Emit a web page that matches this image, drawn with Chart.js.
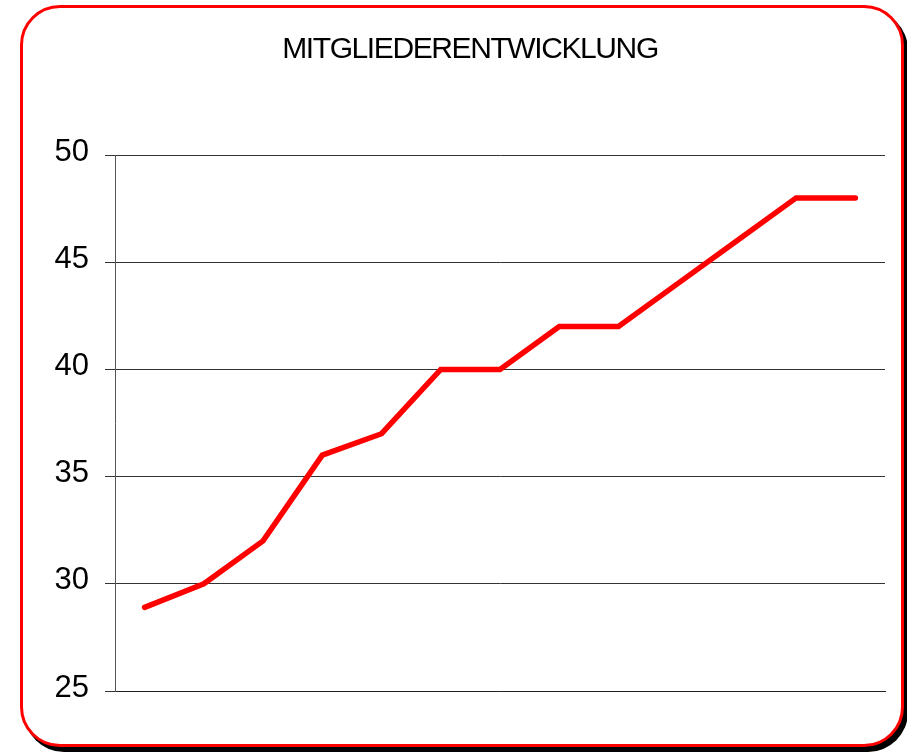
<!DOCTYPE html>
<html>
<head>
<meta charset="utf-8">
<script src="https://cdn.jsdelivr.net/npm/chart.js@4"></script>
<style>
  html, body { margin: 0; padding: 0; background: #fff; }
  body { width: 907px; height: 754px; position: relative; overflow: hidden; }
  .box {
    position: absolute; left: 20px; top: 5px; width: 878px; height: 736px;
    border: 3px solid #ff0000; border-radius: 40px; background: #fff;
    box-shadow: 4px 5px 0 #000;
  }
  .wrap { position: absolute; left: 36px; top: 8px; width: 868px; height: 730px; }
</style>
</head>
<body>
<div class="box"></div>
<div class="wrap"><canvas id="chart"></canvas></div>
<script>
// ---------- data ----------
const titleText = 'MITGLIEDERENTWICKLUNG';
const labels = ['1', '2', '3', '4', '5', '6', '7', '8', '9', '10', '11', '12', '13'];
const members = [28.9, 30, 32, 36, 37, 40, 40, 42, 42, 44, 46, 48, 48];
const yMin = 25, yMax = 50, yStep = 5;

Chart.defaults.font.family = '"Liberation Sans", Arial, sans-serif';
Chart.defaults.color = '#000';

// title drawn by hand so the tight letter spacing of the original can be kept
const tightTitle = {
  id: 'tightTitle',
  afterDraw(chart) {
    const c = chart.ctx;
    c.save();
    c.font = '30px "Liberation Sans", Arial, sans-serif';
    if ('letterSpacing' in c) c.letterSpacing = '-1.4px';
    c.fillStyle = '#000';
    c.textAlign = 'center';
    c.textBaseline = 'alphabetic';
    c.fillText(titleText, chart.width / 2, 50);
    c.restore();
  }
};

const ctx = document.getElementById('chart').getContext('2d');
new Chart(ctx, {
  type: 'line',
  data: {
    labels,
    datasets: [{
      label: 'Mitglieder',
      data: members,
      borderColor: '#ff0000',
      borderWidth: 5.5,
      borderCapStyle: 'round',
      borderJoinStyle: 'miter',
      pointRadius: 0,
      tension: 0,
      fill: false
    }]
  },
  options: {
    animation: false,
    responsive: true,
    maintainAspectRatio: false,
    layout: { padding: { left: 0, right: 19, top: 147, bottom: 47 } },
    plugins: {
      legend: { display: false },
      tooltip: { enabled: false },
      title: { display: false }
    },
    scales: {
      x: {
        offset: true,
        grid: { display: false },
        ticks: { display: false },
        border: { display: true, color: '#222', width: 1 },
        afterFit: (s) => { s.height = 0; }
      },
      y: {
        min: yMin,
        max: yMax,
        ticks: { stepSize: yStep, padding: 16, labelOffset: -3, font: { size: 31 }, color: '#000' },
        grid: { color: '#333', lineWidth: 1, tickLength: 10, drawTicks: true },
        border: { display: true, color: '#555', width: 1 },
        afterFit: (s) => { s.width = 79; }
      }
    }
  },
  plugins: [tightTitle]
});
</script>
</body>
</html>
